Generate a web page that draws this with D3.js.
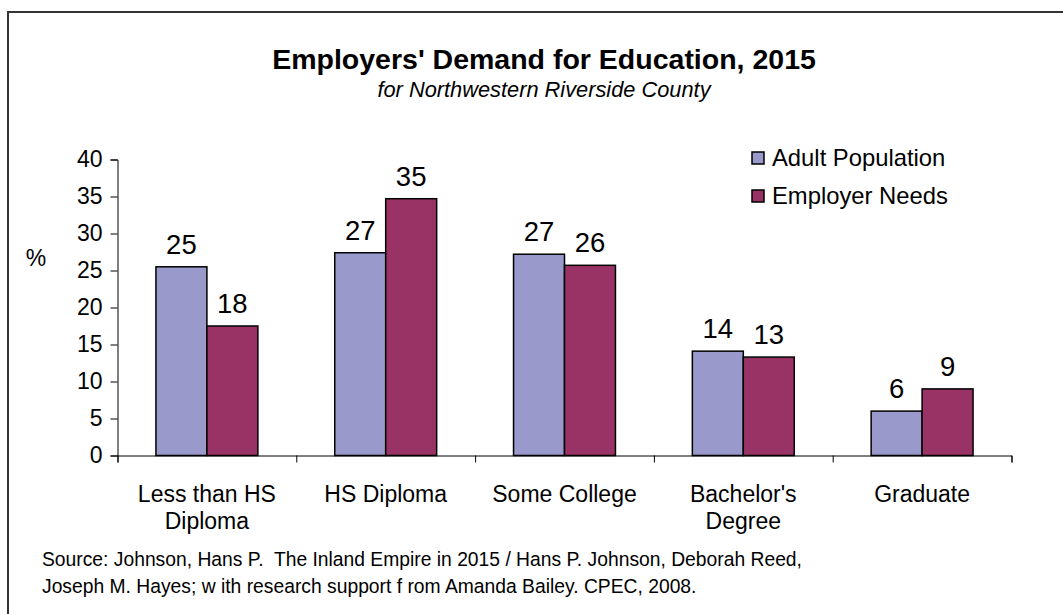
<!DOCTYPE html>
<html>
<head>
<meta charset="utf-8">
<script src="https://cdn.jsdelivr.net/npm/d3@7"></script>
<style>
    body { margin: 0; background: #fff; }
    svg text { font-family: "Liberation Sans", Arial, sans-serif; fill: #000; }
</style>
</head>
<body>
<svg id="chart"></svg>
<script>
    // data
    var categories = [["Less than HS", "Diploma"], ["HS Diploma"], ["Some College"], ["Bachelor's", "Degree"], ["Graduate"]];
    var seriesNames = ["Adult Population", "Employer Needs"];
    var adultPop = [25.5, 27.4, 27.2, 14.1, 6.0];
    var employerNeeds = [17.5, 34.7, 25.7, 13.3, 9.0];
    var adultLabels = ["25", "27", "27", "14", "6"];
    var employerLabels = ["18", "35", "26", "13", "9"];
    var yTicks = [0, 5, 10, 15, 20, 25, 30, 35, 40];
    var sourceLines = [
        "Source: Johnson, Hans P.  The Inland Empire in 2015 / Hans P. Johnson, Deborah Reed,",
        "Joseph M. Hayes; w ith research support f rom Amanda Bailey. CPEC, 2008."
    ];

    var colors = ["#9999cc", "#993366"];

    var W = 1063, H = 614,
        svg = d3.select("svg#chart").attr("width", W).attr("height", H),
        plot = { left: 117.5, right: 1011.5, top: 159.5, bottom: 455.5 };

    // frame (only left and top edges are in view)
    svg.append("path")
        .attr("d", "M8," + H + "V12H" + W)
        .attr("fill", "none")
        .attr("stroke", "#333")
        .attr("stroke-width", 2);

    // titles
    svg.append("text")
        .attr("x", 544).attr("y", 69)
        .attr("text-anchor", "middle")
        .attr("font-size", 28.5).attr("font-weight", "bold")
        .text("Employers' Demand for Education, 2015");
    svg.append("text")
        .attr("x", 544).attr("y", 97)
        .attr("text-anchor", "middle")
        .attr("font-size", 21.8).attr("font-style", "italic")
        .text("for Northwestern Riverside County");

    var keys = categories.map(function (c) { return c.join(" "); });

    var x = d3.scaleBand()
        .domain(keys)
        .range([plot.left, plot.right])
        .paddingInner(0.43)
        .paddingOuter(0.215);

    var xs = d3.scaleBand().domain(seriesNames).range([0, x.bandwidth()]);

    var y = d3.scaleLinear().domain([0, 40]).range([plot.bottom, plot.top]);

    // y axis
    var axisY = svg.append("g")
        .attr("transform", "translate(" + plot.left + ",0)")
        .call(d3.axisLeft(y).tickValues(yTicks).tickSize(7).tickPadding(8));
    axisY.select(".domain").attr("stroke", "#000");
    axisY.selectAll("text").attr("font-size", 23).attr("font-family", "Liberation Sans, Arial, sans-serif");

    svg.append("text")
        .attr("x", 36).attr("y", 266)
        .attr("text-anchor", "middle")
        .attr("font-size", 23)
        .text("%");

    // bars
    var rows = keys.map(function (k, i) {
        return { key: k, vals: [adultPop[i], employerNeeds[i]], labels: [adultLabels[i], employerLabels[i]] };
    });

    var groups = svg.append("g").selectAll("g")
        .data(rows)
        .enter().append("g")
        .attr("transform", function (d) { return "translate(" + x(d.key) + ",0)"; });

    groups.selectAll("rect")
        .data(function (d) { return d.vals.map(function (v, j) { return { s: seriesNames[j], v: v, j: j }; }); })
        .enter().append("rect")
        .attr("x", function (d) { return xs(d.s); })
        .attr("y", function (d) { return y(d.v); })
        .attr("width", xs.bandwidth())
        .attr("height", function (d) { return y(0) - y(d.v); })
        .attr("fill", function (d) { return colors[d.j]; })
        .attr("stroke", "#000")
        .attr("stroke-width", 1.5);

    groups.selectAll("text.val")
        .data(function (d) { return d.vals.map(function (v, j) { return { s: seriesNames[j], v: v, t: d.labels[j] }; }); })
        .enter().append("text")
        .attr("class", "val")
        .attr("x", function (d) { return xs(d.s) + xs.bandwidth() / 2; })
        .attr("y", function (d) { return y(d.v) - 13; })
        .attr("text-anchor", "middle")
        .attr("font-size", 27.5)
        .text(function (d) { return d.t; });

    // x axis with ticks between categories
    var xb = d3.scaleLinear().domain([0, keys.length]).range([plot.left, plot.right]);
    var axisX = svg.append("g")
        .attr("transform", "translate(0," + plot.bottom + ")")
        .call(d3.axisBottom(xb).ticks(keys.length).tickSize(7).tickFormat(""));
    axisX.select(".domain").attr("stroke", "#000");

    // category labels
    var catLab = svg.append("g").selectAll("text")
        .data(categories)
        .enter().append("text")
        .attr("x", function (d, i) { return x(keys[i]) + x.bandwidth() / 2; })
        .attr("y", 502)
        .attr("text-anchor", "middle")
        .attr("font-size", 23);
    catLab.selectAll("tspan")
        .data(function (d) { return d; })
        .enter().append("tspan")
        .attr("x", function () { return d3.select(this.parentNode).attr("x"); })
        .attr("dy", function (d, i) { return i === 0 ? 0 : 27; })
        .text(function (d) { return d; });

    // legend
    var legend = svg.append("g").selectAll("g")
        .data(seriesNames)
        .enter().append("g")
        .attr("transform", function (d, i) { return "translate(752," + (158 + i * 38) + ")"; });
    legend.append("rect")
        .attr("x", 0).attr("y", -6)
        .attr("width", 12).attr("height", 12)
        .attr("fill", function (d, i) { return colors[i]; })
        .attr("stroke", "#000")
        .attr("stroke-width", 1.5);
    legend.append("text")
        .attr("x", 20).attr("y", 0)
        .attr("dy", "0.35em")
        .attr("font-size", 23.8)
        .text(function (d) { return d; });

    // source note
    svg.append("g").selectAll("text")
        .data(sourceLines)
        .enter().append("text")
        .attr("x", 42)
        .attr("y", function (d, i) { return 566 + i * 27; })
        .attr("font-size", 19.3)
        .style("white-space", "pre")
        .text(function (d) { return d; });
</script>
</body>
</html>
